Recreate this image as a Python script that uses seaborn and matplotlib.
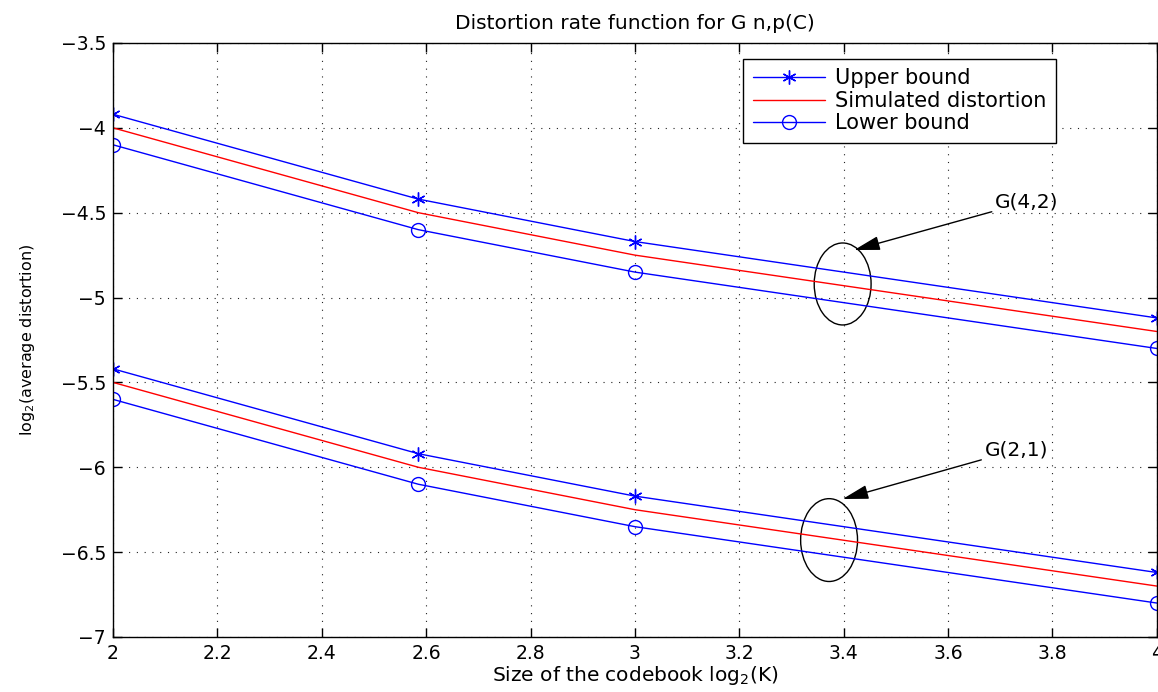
import numpy as np
import pandas as pd
import matplotlib
matplotlib.use("Agg")
import matplotlib.pyplot as plt
import seaborn as sns
from matplotlib.patches import Ellipse

sns.set_style("ticks")
plt.rcParams['font.family'] = ['DejaVu Sans']
plt.rcParams['axes.unicode_minus'] = True
plt.rcParams['text.color'] = 'black'
plt.rcParams['axes.labelcolor'] = 'black'
plt.rcParams['xtick.color'] = 'black'
plt.rcParams['ytick.color'] = 'black'

# Data
codebook_log2K = [2.0, 2.585, 3.0, 4.0]
upper_42 = [-3.92, -4.42, -4.67, -5.12]
sim_42 = [-4.0, -4.5, -4.75, -5.2]
lower_42 = [-4.1, -4.6, -4.85, -5.3]
upper_21 = [-5.42, -5.92, -6.17, -6.62]
sim_21 = [-5.5, -6.0, -6.25, -6.7]
lower_21 = [-5.6, -6.1, -6.35, -6.8]
x_ticks = [2, 2.2, 2.4, 2.6, 2.8, 3, 3.2, 3.4, 3.6, 3.8, 4]
y_ticks = [-7, -6.5, -6, -5.5, -5, -4.5, -4, -3.5]

fig = plt.figure(figsize=(11.58, 6.92), dpi=100)
ax = fig.add_axes([0.0976, 0.0795, 0.9014, 0.8584])

asterisk = (6, 2, 0)
series = [
    ("Upper bound", upper_42, "#0000ff", asterisk, "#0000ff"),
    ("Simulated distortion", sim_42, "#ff0000", None, None),
    ("Lower bound", lower_42, "#0000ff", "o", "none"),
    (None, upper_21, "#0000ff", asterisk, "#0000ff"),
    (None, sim_21, "#ff0000", None, None),
    (None, lower_21, "#0000ff", "o", "none"),
]
for label, yv, col, mk, fc in series:
    df = pd.DataFrame({"x": codebook_log2K, "y": yv})
    kw = dict(data=df, x="x", y="y", ax=ax, color=col, linewidth=1.0,
              label=label if label else "_nolegend_", legend=False)
    if mk is not None:
        kw.update(marker=mk, markersize=10, markeredgecolor=col,
                  markerfacecolor=fc, markeredgewidth=1.0)
    sns.lineplot(**kw)

ax.set_xlim(2, 4)
ax.set_ylim(-7, -3.5)
ax.set_xticks(x_ticks)
ax.set_xticklabels([f"{t:g}" for t in x_ticks])
ax.set_yticks(y_ticks)
ax.set_yticklabels([f"{t:g}".replace("-", "\u2212") for t in y_ticks])
ax.tick_params(direction="in", top=True, right=True, labelsize=13.5, length=6.5, width=1,
               colors="black")
ax.tick_params(axis="x", pad=5)
ax.tick_params(axis="y", pad=5)
ax.grid(True, linestyle=(0, (1, 6)), color="#222222", linewidth=0.8)
for s in ax.spines.values():
    s.set_linewidth(1.0)
    s.set_color("black")

ax.set_title("Distortion rate function for G n,p(C)", fontsize=14.5, pad=10)
ax.set_xlabel("Size of the codebook log$_2$(K)", fontsize=14.5, labelpad=1)
ax.set_ylabel("log$_2$(average distortion)", fontsize=11.5, labelpad=17)

# Ellipses and annotations
ax.add_patch(Ellipse((3.398, -4.92), 0.109, 0.483, fill=False, edgecolor="black", linewidth=1.0))
ax.add_patch(Ellipse((3.372, -6.429), 0.109, 0.488, fill=False, edgecolor="black", linewidth=1.0))
ax.annotate("G(4,2)", xy=(3.42, -4.72), xytext=(3.69, -4.437), fontsize=14.5,
            va="center", ha="left",
            arrowprops=dict(arrowstyle="-|>,head_length=1.1,head_width=0.3", color="black", lw=1.0,
                            shrinkA=0, shrinkB=0))
ax.annotate("G(2,1)", xy=(3.398, -6.187), xytext=(3.67, -5.898), fontsize=14.5,
            va="center", ha="left",
            arrowprops=dict(arrowstyle="-|>,head_length=1.1,head_width=0.3", color="black", lw=1.0,
                            shrinkA=0, shrinkB=0))

leg = ax.legend(loc="upper right", bbox_to_anchor=(0.903, 0.973), borderaxespad=0, fontsize=15,
                frameon=True, fancybox=False, edgecolor="black", framealpha=1,
                handlelength=3.5, borderpad=0.45, labelspacing=0.12, handletextpad=0.45)
leg.get_frame().set_linewidth(1.0)
for t in leg.get_texts():
    t.set_color("black")

fig.savefig("out.png", dpi=100)
